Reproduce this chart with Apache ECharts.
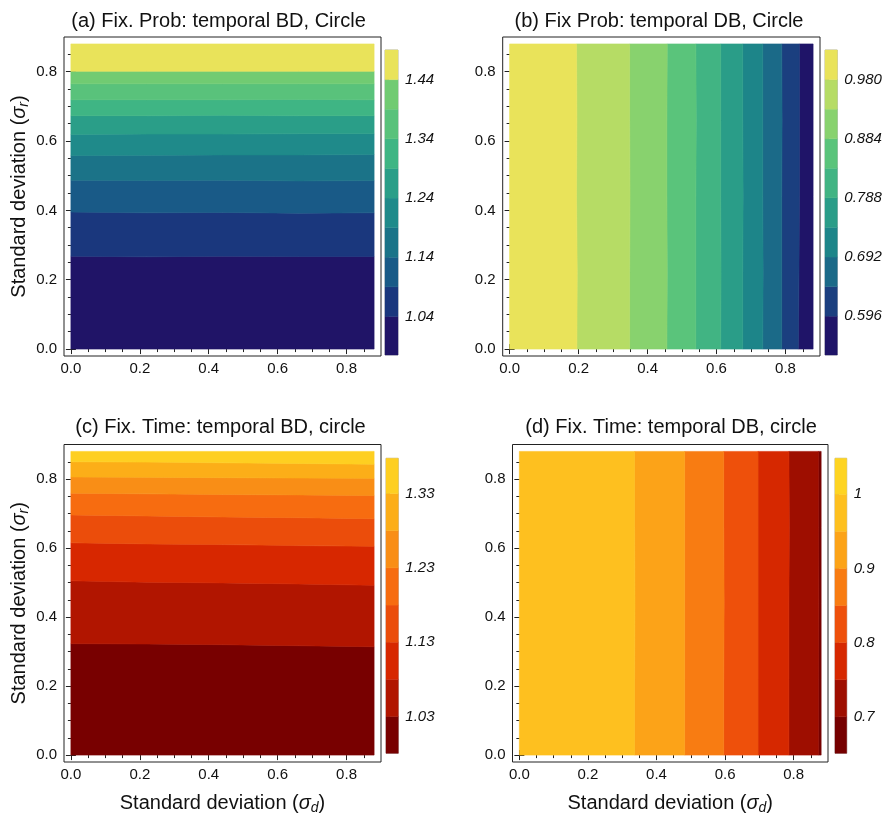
<!DOCTYPE html>
<html><head><meta charset="utf-8">
<script src="https://cdn.jsdelivr.net/npm/echarts@6/dist/echarts.min.js"></script>
<style>html,body{margin:0;padding:0;background:#fff}#c{width:891px;height:816px}</style>
</head><body><div id="c"></div><script>
// ---------- shared axis data ----------
const samplePos = [0, 0.22, 0.44, 0.66, 0.88];     // positions along each contour line where it was read
const dataMax = 0.88;                               // data domain is [0, 0.88] on both axes
const frameRange = [-0.02, 0.9];
const majorTicks = [0, 0.2, 0.4, 0.6, 0.8];
const minorTicks = [0.05,0.1,0.15,0.25,0.3,0.35,0.45,0.5,0.55,0.65,0.7,0.75,0.85];
const tickLabels = ['0.0','0.2','0.4','0.6','0.8'];

// ---------- (a) Fix. Prob: temporal BD — horizontal contours (σr position vs σd samples) ----------
const aTitle = '(a) Fix. Prob: temporal BD, Circle';
const aLevels = [1.04,1.09,1.14,1.19,1.24,1.29,1.34,1.39,1.44];
const aContours = [
  [0.268,0.266,0.268,0.267,0.267],
  [0.395,0.393,0.394,0.392,0.393],
  [0.487,0.486,0.487,0.485,0.486],
  [0.558,0.559,0.560,0.560,0.561],
  [0.619,0.620,0.620,0.621,0.621],
  [0.673,0.673,0.674,0.673,0.673],
  [0.719,0.719,0.719,0.720,0.719],
  [0.765,0.765,0.765,0.765,0.765],
  [0.801,0.801,0.801,0.801,0.801]
];
const aColors = ['#201467','#1a377d','#195a87','#1b7388','#1f8a8a','#2a9e88','#3fb584','#59c27b','#71cb72','#e9e35a'];
const aRange = [0.975, 1.49];
const aBarLabels = [1.04,1.14,1.24,1.34,1.44];

// ---------- (b) Fix Prob: temporal DB — vertical contours (σd position vs σr samples) ----------
const bTitle = '(b) Fix Prob: temporal DB, Circle';
const bLevels = [0.596,0.644,0.692,0.740,0.788,0.836,0.884,0.932,0.980];
const bContours = [
  [0.837,0.839,0.840,0.840,0.840],
  [0.789,0.789,0.789,0.790,0.789],
  [0.734,0.735,0.734,0.734,0.734],
  [0.676,0.676,0.677,0.676,0.676],
  [0.612,0.613,0.612,0.612,0.612],
  [0.540,0.540,0.540,0.541,0.540],
  [0.456,0.457,0.456,0.456,0.457],
  [0.348,0.348,0.349,0.348,0.348],
  [0.195,0.196,0.194,0.195,0.194]
];
const bColors = ['#1f1468','#1b3f7f','#1b6a88','#1d8589','#2a9d88','#41b483','#5ac47b','#88d26e','#b6dc65','#e9e35a'];
const bRange = [0.533, 1.028];
const bBarLabels = [0.596,0.692,0.788,0.884,0.980];

// ---------- (c) Fix. Time: temporal BD — horizontal contours ----------
const cTitle = '(c) Fix. Time: temporal BD, circle';
const cLevels = [1.03,1.08,1.13,1.18,1.23,1.28,1.33];
const cContours = [
  [0.323,0.322,0.320,0.317,0.314],
  [0.505,0.501,0.499,0.496,0.492],
  [0.615,0.612,0.610,0.607,0.605],
  [0.696,0.693,0.690,0.688,0.685],
  [0.759,0.757,0.755,0.754,0.752],
  [0.806,0.805,0.804,0.803,0.802],
  [0.850,0.849,0.847,0.845,0.843]
];
const cColors = ['#780000','#b11500','#d72700','#eb4d0b','#f76c10','#f98e16','#fcae18','#fecf21'];
const cRange = [0.9805, 1.3775];
const cBarLabels = [1.03,1.13,1.23,1.33];

// ---------- (d) Fix. Time: temporal DB — vertical contours ----------
const dTitle = '(d) Fix. Time: temporal DB, circle';
const dLevels = [0.70,0.75,0.80,0.85,0.90,0.95,1.00];
const dContours = [
  [0.872,0.872,0.873,0.872,0.872],
  [0.786,0.786,0.786,0.787,0.786],
  [0.696,0.696,0.696,0.696,0.696],
  [0.596,0.596,0.597,0.596,0.596],
  [0.482,0.482,0.482,0.482,0.482],
  [0.336,0.336,0.337,0.336,0.336]
];
const dColors = ['#760000','#9e0e00','#d62800','#ee500b','#f87c12','#fca318','#fec01f','#fed422'];
const dRange = [0.6507, 1.0485];
const dBarLabels = [0.7,0.8,0.9,1];

// ---------- build ----------
const FONT = '"Liberation Sans", Arial, Helvetica, sans-serif';
const panels = [
  {title:aTitle, contours:aContours, colors:aColors, levels:aLevels, range:aRange, bar:aBarLabels, dir:'h', dec:2,
   grid:{left:64, top:37, width:317, height:319}, cbar:{left:385, top:50, width:13, height:305}, tx:218.5, ty:21, yName:'r'},
  {title:bTitle, contours:bContours, colors:bColors, levels:bLevels, range:bRange, bar:bBarLabels, dir:'v', dec:3,
   grid:{left:502.7, top:37, width:317.3, height:319}, cbar:{left:825, top:50, width:12.3, height:305}, tx:659, ty:21},
  {title:cTitle, contours:cContours, colors:cColors, levels:cLevels, range:cRange, bar:cBarLabels, dir:'h', dec:2,
   grid:{left:64, top:444.5, width:317, height:319.5}, cbar:{left:386, top:458.3, width:12.3, height:295}, tx:220.5, ty:427, yName:'r', xName:'d'},
  {title:dTitle, contours:dContours, colors:dColors, levels:dLevels, range:dRange, bar:dBarLabels, dir:'v', dec:null,
   grid:{left:512.5, top:444.5, width:315.5, height:319.5}, cbar:{left:835, top:458.3, width:11.7, height:295}, tx:671, ty:427, xName:'d'}
];

function sigmaName(sub) {
  return {
    text: '{n|Standard deviation (}{g|σ}{s|' + sub + '}{n|)}',
    rich: {
      n: {fontSize:20, fontFamily:FONT, color:'#111'},
      g: {fontSize:20, fontFamily:FONT, fontStyle:'italic', color:'#111'},
      s: {fontSize:14, fontFamily:FONT, fontStyle:'italic', color:'#111', padding:[10,0,0,0]}
    }
  };
}

const grids = [], xAxes = [], yAxes = [], series = [], graphics = [];
const tickStyle = {color:'#222', width:1};
const labStyle = {fontSize:15, fontFamily:FONT, color:'#111'};
const fmtTick = v => { const i = majorTicks.indexOf(v); return i >= 0 ? tickLabels[i] : v.toFixed(1); };

panels.forEach((p, gi) => {
  grids.push(Object.assign({show:true, borderColor:'#222', borderWidth:1, backgroundColor:'transparent'}, p.grid));
  const base = {type:'value', gridIndex:gi, min:frameRange[0], max:frameRange[1], splitLine:{show:false}, axisLine:{show:false}};
  const major = (pos, withLabel) => Object.assign({}, base, {position:pos,
      axisTick:{inside:true, length:5, customValues:majorTicks, lineStyle:tickStyle},
      axisLabel: withLabel ? Object.assign({show:true, customValues:majorTicks, formatter:fmtTick, margin:pos==='left'?7:5}, labStyle) : {show:false}});
  const minor = pos => Object.assign({}, base, {position:pos,
      axisTick:{inside:true, length:3, customValues:minorTicks, lineStyle:tickStyle}, axisLabel:{show:false}});
  const xb = major('bottom', true);
  if (p.xName) {
    const nm = sigmaName(p.xName);
    Object.assign(xb, {name:nm.text, nameLocation:'middle', nameGap:29, nameTextStyle:{rich:nm.rich}});
  }
  xAxes.push(xb, minor('bottom'), major('top', false), minor('top'));
  const yl = major('left', true);
  if (p.yName) {
    const nm = sigmaName(p.yName);
    Object.assign(yl, {name:nm.text, nameLocation:'middle', nameGap:33, nameRotate:90, nameTextStyle:{rich:nm.rich}});
  }
  yAxes.push(yl, minor('left'), major('right', false), minor('right'));

  // contour bands: band k (ascending value) lies between contour k-1 and contour k
  const m = p.contours.length;
  const lowEdge = p.dir === 'h' ? 0 : dataMax;   // side of the plot where values are lowest
  const highEdge = p.dir === 'h' ? dataMax : 0;
  series.push({
    type:'custom', xAxisIndex:gi*4, yAxisIndex:gi*4, silent:true, animation:false,
    data: p.colors.slice(0, m+1).map((c, k) => [0.44, 0.44, k]),
    encode:{x:0, y:1},
    renderItem(params, api) {
      const k = params.dataIndex;
      const lo = k === 0 ? samplePos.map(() => lowEdge) : p.contours[k-1];
      const hi = k === m ? samplePos.map(() => highEdge) : p.contours[k];
      const pt = (along, across) => p.dir === 'h' ? api.coord([along, across]) : api.coord([across, along]);
      const pts = [];
      for (let j = 0; j < samplePos.length; j++) pts.push(pt(samplePos[j], lo[j]));
      for (let j = samplePos.length - 1; j >= 0; j--) pts.push(pt(samplePos[j], hi[j]));
      return {type:'polygon', shape:{points:pts}, style:{fill:p.colors[k], stroke:p.colors[k], lineWidth:0.6}};
    }
  });

  graphics.push({type:'text', x:p.tx, y:p.ty, silent:true,
    style:{text:p.title, font:'20px ' + FONT, fill:'#111', align:'center', verticalAlign:'middle'}});
});

// colorbars
panels.forEach((p, ci) => {
  const gi = 4 + ci;
  const ai = xAxes.length;   // axis index for this colorbar
  grids.push(Object.assign({show:true, borderColor:'#b5b5b5', borderWidth:1, backgroundColor:'transparent'}, p.cbar));
  xAxes.push({type:'value', gridIndex:gi, min:0, max:1, show:false});
  yAxes.push({type:'value', gridIndex:gi, min:p.range[0], max:p.range[1], position:'right',
    splitLine:{show:false}, axisLine:{show:false},
    axisTick:{show:true, length:4, customValues:p.bar, lineStyle:{color:'#999'}},
    axisLabel:{show:true, customValues:p.bar, margin:7, fontSize:15, fontStyle:'italic', fontFamily:FONT, color:'#111',
      formatter: v => p.dec === null ? String(v) : v.toFixed(p.dec)}});
  const edges = [p.range[0]].concat(p.levels, [p.range[1]]);
  series.push({
    type:'custom', xAxisIndex:ai, yAxisIndex:ai, silent:true, animation:false,
    data: p.colors.map((c, k) => [0.5, (edges[k] + edges[k+1]) / 2]),
    encode:{x:0, y:1},
    renderItem(params, api) {
      const k = params.dataIndex;
      const a = api.coord([0, edges[k]]), b = api.coord([1, edges[k+1]]);
      return {type:'rect', shape:{x:a[0], y:b[1], width:b[0]-a[0], height:a[1]-b[1]},
        style:{fill:p.colors[k], stroke:p.colors[k], lineWidth:0.4}};
    }
  });
});

const chart = echarts.init(document.getElementById('c'), null, {renderer:'canvas'});
chart.setOption({animation:false, backgroundColor:'#fff', grid:grids, xAxis:xAxes, yAxis:yAxes, series:series, graphic:graphics});
</script></body></html>
